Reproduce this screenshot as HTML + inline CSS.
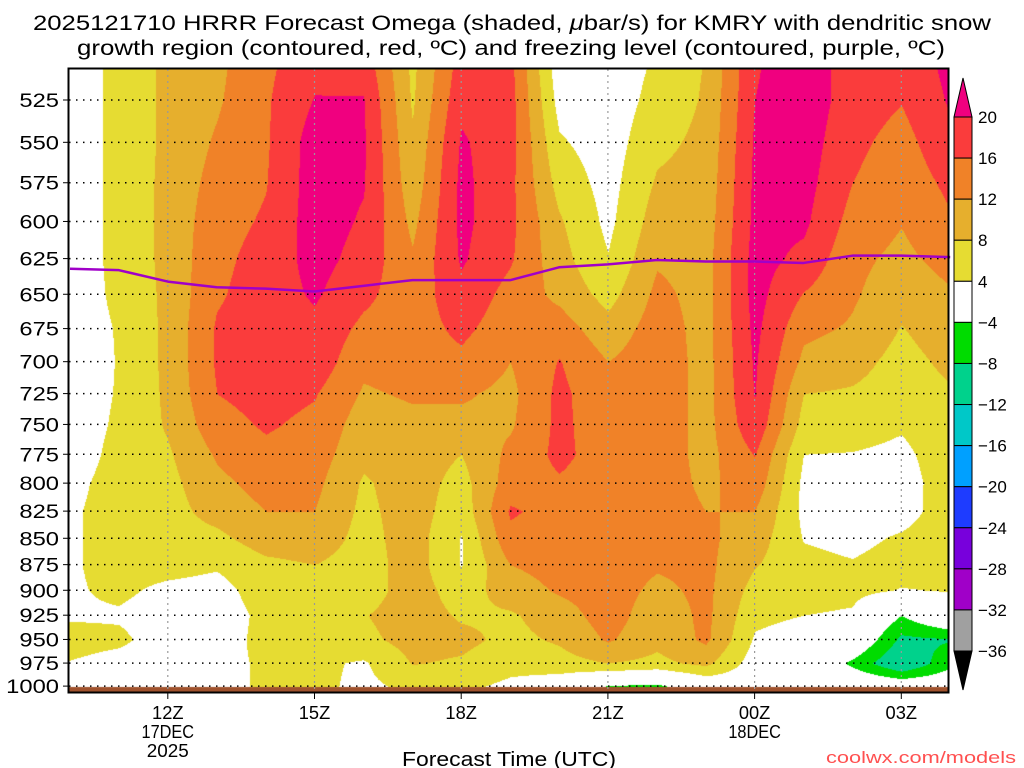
<!DOCTYPE html>
<html><head><meta charset="utf-8"><title>HRRR Omega KMRY</title>
<style>
html,body{margin:0;padding:0;background:#fff;}
#wrap{position:relative;width:1024px;height:768px;overflow:hidden;background:#fff;}
#field{position:absolute;left:0;top:0;}
#over{position:absolute;left:0;top:0;}
text{font-family:"Liberation Sans",sans-serif;fill:#000;}
</style></head>
<body>
<div id="wrap">
<canvas id="field" width="1024" height="768"></canvas>
<svg id="over" width="1024" height="768" xmlns="http://www.w3.org/2000/svg">
<text x="512" y="30" text-anchor="middle" font-size="21" textLength="958" lengthAdjust="spacingAndGlyphs">2025121710 HRRR Forecast Omega (shaded, <tspan font-style="italic">μ</tspan>bar/s) for KMRY with dendritic snow</text>
<text x="511" y="55" text-anchor="middle" font-size="21" textLength="868" lengthAdjust="spacingAndGlyphs">growth region (contoured, red, ºC) and freezing level (contoured, purple, ºC)</text>
<g id="grid"></g>
<g id="fzl"></g>
<rect x="68.5" y="68.5" width="880" height="624" fill="none" stroke="#000" stroke-width="2"/>
<g id="yax"></g>
<g id="xax"></g>
<text x="509" y="766" text-anchor="middle" font-size="20" textLength="214" lengthAdjust="spacingAndGlyphs">Forecast Time (UTC)</text>
<text x="1016" y="763" text-anchor="end" font-size="17" textLength="190" lengthAdjust="spacingAndGlyphs" style="fill:#ff5050">coolwx.com/models</text>
<g id="cbar"></g>
</svg>
</div>
<script>
// ---- data ----
const hours = [10,11,12,13,14,15,16,17,18,19,20,21,22,23,24,25,26,27,28];
const pressures = [500,525,550,575,600,625,650,675,700,725,750,775,800,825,850,875,900,925,950,975,1000];
const w10 = [2,2,2,2,2,2,2,2,2,2,2,2,3,3.5,3.5,3.5,3.5,3.5,5.5,3.8,3];
const w11 = [5,5,5,5,5,5,4.8,4.3,4.2,4.3,4.6,5.2,5.5,5.5,5.5,5.5,4.8,3.5,4.8,2.5,2.5];
const w12 = [9,9,9,9.2,9.2,9.2,9,9,9,8.8,8.5,7.5,6.8,6.5,6.3,5.5,3,2,2,2,2.5];
const w13 = [11,11.5,12.5,13.5,14.5,15,15.5,16.5,16.5,16,14.5,12.5,11,9.5,7,4.5,2.5,2,2.5,3,3];
const w14 = [15,15.5,15.5,15.8,16.5,17.5,18,18,18,17.5,16.5,15,13.5,12,10,7,6,5,5,4.5,4.5];
const w15 = [18.5,20.2,22,22,22,21.5,20.5,19,18.5,16.3,15,14,13,12,10.5,8,6.5,6,5.5,4.8,5];
const w16 = [18,20.2,20.5,20.3,19.5,18.5,17,15,13,11.5,10,9,7.5,7,6.5,6,6,7.8,7,3.5,3];
const w17 = [7,7.5,8.5,9.5,11,12.5,13.5,14,14,12.5,11,10,10,10,10,10,10,10,9.5,8.2,5];
const w18 = [17.5,19,20.5,21,21,20.5,19,17,15,12.5,11,8,6.5,5.5,3.8,3.8,6,7.5,9,7.5,5];
const w19 = [17,17.5,17.5,17,17,16.5,14.5,13.5,12,11,11.5,13,14,16.5,15,12,10,7.5,7,5.5,3];
const w20 = [1,2.5,4.5,6.5,8.5,9.5,11,14,16.2,17,17,17,15.5,14.5,14,13.5,12.5,10,8.5,6.5,1];
const w21 = [1,1.5,2,2.5,3,4.2,6.5,9.5,12,13,13.5,14,14,14,14,14,14,14,12.5,8,-4.3];
const w22 = [4.5,5.5,7,8.5,10,11.5,13,14,14.5,14.5,14.5,14.5,14.5,14.5,14.5,12.5,11,9.5,9,7,-5];
const w23 = [8.2,8.5,9,9.5,10,10.5,10.5,10.5,10.5,10.5,10.5,10.5,11,12,12.8,13,13,13,12.8,9,0];
const w24 = [19.5,20,20.5,20.8,21,21.5,21.5,21,20.5,20.2,19,16.2,14.5,12,10,8.3,6.5,5,3.5,2,1.5];
const w25 = [22.5,22.5,22,21.5,20.8,19,15.8,13,11,8,6.5,4,3,3,3.8,5,5.5,4,2,1.5,2];
const w26 = [18,18,17,16,14.5,13,12.5,11.5,9.5,7.5,6,3.8,2.5,2,3,4.3,5,3.5,1,-5,1];
const w27 = [17,16.2,14.5,13.5,12.2,11,9.5,7.8,6.5,6,4.5,3,2,2.5,4.5,5.5,3.8,-4,-9,-12.3,0];
const w28 = [21.5,20.5,19,17,15.5,13.5,11.5,10.5,9,7.5,7,6.5,6.5,6,6,5.5,4.2,2,-8.3,-5,0];
const freezingLevel = [632,633,641,645,646,648,644,640,640,640,631,629,626,627,627,628,623,623,624];
const pressureTicks = [525,550,575,600,625,650,675,700,725,750,775,800,825,850,875,900,925,950,975,1000];
const timeTickHours = [12,15,18,21,24,27];
const timeTickLabels = ["12Z","15Z","18Z","21Z","00Z","03Z"];
const timeTickSub = [["17DEC","2025"],[],[],[],["18DEC"],[]];
const levels = [-36,-32,-28,-24,-20,-16,-12,-8,-4,4,8,12,16,20];
const levelLabels = ["20","16","12","8","4","\u22124","\u22128","\u221212","\u221216","\u221220","\u221224","\u221228","\u221232","\u221236"];
const palette = ["#000000","#a0a0a0","#a000c8","#7800dc","#1e3cff","#00a0ff","#00c8c8","#00d28c","#00dc00","#ffffff","#e6dc32","#e6af2d","#f08228","#fa3c3c","#f0007f"];
const grid = [w10,w11,w12,w13,w14,w15,w16,w17,w18,w19,w20,w21,w22,w23,w24,w25,w26,w27,w28];

// ---- scales ----
const X0=70, PXH=48.9, PL=69, PR=948, PT=69, PB=692;
function xScale(h){return X0+(h-10)*PXH;}
function yScale(p){return 100+(Math.log(p)-Math.log(525))*909.6;}
function hFromX(x){return 10+(x-X0)/PXH;}
function hex(c){return [parseInt(c.substr(1,2),16),parseInt(c.substr(3,2),16),parseInt(c.substr(5,2),16)];}

// ---- shading ----
(function(){
  const cv=document.getElementById('field');const ctx=cv.getContext('2d');
  const img=ctx.createImageData(PR-PL+1,PB-PT+1);
  const rgb=palette.map(hex);
  const ry=pressures.map(p=>yScale(p));
  for(let y=PT;y<=PB;y++){
    let j=0;while(j<pressures.length-2&&ry[j+1]<y)j++;
    let fy=(y-ry[j])/(ry[j+1]-ry[j]);fy=Math.max(0,Math.min(1,fy));
    for(let x=PL;x<=PR;x++){
      let h=hFromX(x);let i=Math.floor(h-10);i=Math.max(0,Math.min(hours.length-2,i));
      let fx=Math.max(0,Math.min(1,h-hours[i]));
      const a=grid[i][j],b=grid[i+1][j],c=grid[i][j+1],d=grid[i+1][j+1];
      const v=(a*(1-fx)+b*fx)*(1-fy)+(c*(1-fx)+d*fx)*fy;
      let k=0;while(k<levels.length&&v>=levels[k])k++;
      const col=rgb[k];const o=((y-PT)*(PR-PL+1)+(x-PL))*4;
      img.data[o]=col[0];img.data[o+1]=col[1];img.data[o+2]=col[2];img.data[o+3]=255;
    }
  }
  ctx.putImageData(img,PL,PT);
  ctx.fillStyle='#a0522d';ctx.fillRect(PL,687,PR-PL+1,6);
})();

const NS='http://www.w3.org/2000/svg';
function mk(tag,attrs,parent){const e=document.createElementNS(NS,tag);for(const k in attrs)e.setAttribute(k,attrs[k]);parent.appendChild(e);return e;}

// grid lines
const g=document.getElementById('grid');
pressureTicks.forEach(p=>{
  const l=mk('line',{x1:PL,x2:PR,y1:yScale(p),y2:yScale(p),stroke:'#000','stroke-width':1.5,'stroke-dasharray':'1.5,5.5'},g);
  
  
});
timeTickHours.forEach(h=>{
  const l=mk('line',{x1:xScale(h),x2:xScale(h),y1:PT,y2:PB,stroke:'#999','stroke-width':1.2,'stroke-dasharray':'2,4'},g);
  
  
});

// freezing level
const fz=document.getElementById('fzl');
const pl=mk('polyline',{points:hours.map((h,i)=>xScale(h)+','+yScale(freezingLevel[i])).join(' '),fill:'none',stroke:'#a000c8','stroke-width':2.5,'stroke-linejoin':'round'},fz);



// y axis
const ya=document.getElementById('yax');
pressureTicks.forEach(p=>{
  const y=yScale(p);
  const t=mk('line',{x1:63,x2:69,y1:y,y2:y,stroke:'#000','stroke-width':1},ya);
  
  
  const s=String(p);
  const tx=mk('text',{x:59,y:y+7,'text-anchor':'end','font-size':19,textLength:s.length*13.2,lengthAdjust:'spacingAndGlyphs'},ya);
  tx.textContent=s;
  
  
});

// x axis
const xa=document.getElementById('xax');
timeTickHours.forEach((h,i)=>{
  const x=xScale(h);
  const t=mk('line',{x1:x,x2:x,y1:PB,y2:PB+7,stroke:'#000','stroke-width':1},xa);
  
  
  const lines=[timeTickLabels[i]].concat(timeTickSub[i]);
  lines.forEach((s,k)=>{
    const tx=mk('text',{x:x,y:719+k*19,'text-anchor':'middle','font-size':18,textLength:s.length*10.5,lengthAdjust:'spacingAndGlyphs'},xa);
    tx.textContent=s;
    
    
  });
});

// colorbar
const cb=document.getElementById('cbar');
const CX=954,CW=18,CT=117,STEP=(651-117)/13;
const tri=mk('polygon',{points:`${CX},${CT} ${CX+CW},${CT} ${CX+CW/2},${CT-39}`,fill:palette[14],stroke:'#000','stroke-width':1},cb);


for(let i=0;i<13;i++){
  const r=mk('rect',{x:CX,y:CT+i*STEP,width:CW,height:STEP,fill:palette[13-i],stroke:'#000','stroke-width':1},cb);
  
  
}
const CBB=CT+13*STEP;
const tri2=mk('polygon',{points:`${CX},${CBB} ${CX+CW},${CBB} ${CX+CW/2},${CBB+39}`,fill:palette[0],stroke:'#000','stroke-width':1},cb);


levelLabels.forEach((s,i)=>{
  const tx=mk('text',{x:978,y:CT+i*STEP+6,'font-size':17},cb);
  tx.textContent=s;
  
  
});
</script>
</body></html>
